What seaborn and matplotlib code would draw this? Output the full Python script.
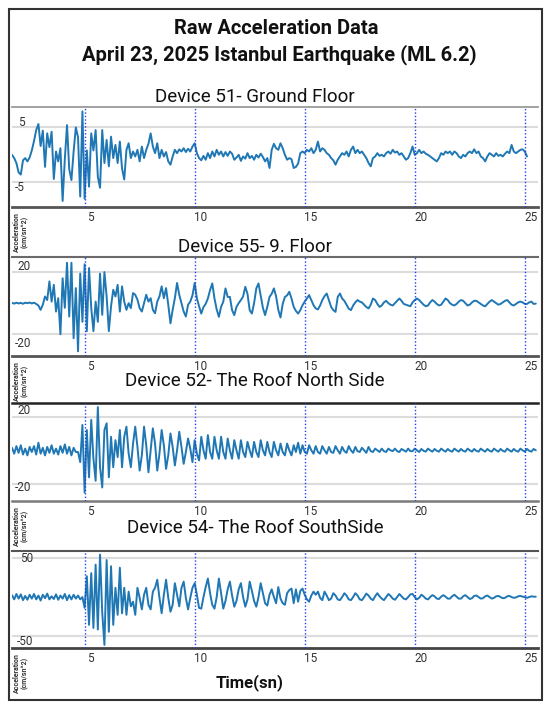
import numpy as np
import pandas as pd
import matplotlib
matplotlib.use("Agg")
import matplotlib.pyplot as plt
from matplotlib.patches import Rectangle
from matplotlib.transforms import ScaledTranslation, blended_transform_factory
import seaborn as sns

sns.set_style("white")
plt.rcParams["font.family"] = ["Roboto", "DejaVu Sans"]

# sampling of the records (s)
t_start = 1.7
dt = 0.1

# acceleration (cm/s^2), one row per second starting at 1.7 s
dev51 = [
    0.0, -0.6, -1.5, -3.2, -3.6, -1.0, -0.6, -1.2, -0.5, 0.8,
    2.5, 4.5, 5.6, 1.6, 4.4, -2.2, 3.9, 1.4, 4.2, -4.4,
    0.6, -1.2, 1.2, -8.4, -0.8, 5.4, -2.6, -4.6, 0.6, 5.0,
    3.2, -7.6, 7.9, -8.0, 0.8, -5.8, 3.9, 0.8, 4.5, -4.0,
    -6.0, 4.5, -1.5, 2.7, -2.1, 3.3, -0.6, 1.8, -1.5, 2.4,
    -2.5, -4.5, 0.9, 2.1, -0.6, 0.6, -0.3, 0.9, -1.2, 1.5,
    -0.6, 0.9, 2.0, 3.9, 1.5, 0.3, 2.1, -0.6, 0.9, -0.3,
    0.5, -1.2, -1.8, -0.3, 0.9, 0.3, 1.0, 0.6, 1.2, 0.5,
    1.1, 0.6, 1.5, 2.1, 0.3, -0.6, -1.0, -0.2, -0.9, 0.3,
    -0.6, 0.6, -0.3, 0.9, 0.0, 0.6, -0.3, 0.5, -0.2, 0.6,
    0.2, -0.9, -0.5, 0.0, -1.1, -0.3, -0.7, 0.3, -0.6, -0.2,
    -0.9, 0.0, -0.5, 0.2, -0.4, -1.2, -0.6, -2.4, 0.9, 2.0,
    1.2, 0.9, 2.1, 1.2, 0.0, -0.9, -0.6, -0.8, -2.4, -2.2,
    -1.6, 0.3, 0.6, 0.3, 0.9, 0.6, 1.2, 0.3, 0.9, 2.4,
    0.6, 1.2, 0.9, 0.3, 0.0, -0.6, -1.0, -1.8, -0.9, -0.3,
    0.3, 0.0, 0.6, -0.3, 0.9, 1.5, 0.3, 0.9, 0.3, 0.6,
    0.0, -0.6, -1.5, -2.1, -0.6, -0.3, 0.3, -0.2, 0.0, -0.3,
    0.3, 0.6, 0.2, 0.9, 0.4, 0.6, 0.0, 0.3, -0.3, -0.9,
    -0.6, 0.3, 1.5, 0.0, 0.3, 0.9, 0.3, 0.6, 0.2, 0.0,
    -0.3, -0.6, -0.9, -1.2, -0.6, 0.3, 0.0, 0.6, 0.3, 0.6,
    0.0, 0.6, 0.3, -0.3, -0.6, 0.0, -0.3, 0.3, 0.6, 0.3,
    1.0, 0.3, 0.6, -0.3, -0.6, -1.2, -0.3, 0.3, 0.0, -0.3,
    0.3, -0.2, 0.0, -0.3, 0.2, 0.6, 0.3, 1.8, 0.6, 0.3,
    0.6, 0.9, 1.0, 0.6, -0.3,
]

dev55 = [
    0.2, -0.3, 0.3, -0.2, 0.2, -0.4, 0.3, 0.0, 0.4, -0.2,
    0.3, -0.5, -1.5, -4.3, -1.0, 4.3, 2.0, 14.0, 1.0, 11.8,
    -5.4, 3.2, -20.0, 16.0, -3.0, 26.0, -8.6, 26.0, -22.6, 9.7,
    -31.0, 19.0, -12.0, 25.0, -18.0, 22.6, -3.0, -18.0, 1.0, -12.0,
    19.0, -7.5, 20.0, 4.3, -18.0, -2.0, 8.6, 4.3, 11.8, -5.4,
    10.8, 1.0, -4.3, 0.0, -3.2, 6.5, 5.4, 2.2, -3.2, -5.4,
    0.0, 5.4, 1.0, 3.2, -4.3, -6.5, 1.0, 4.3, 10.8, 3.2,
    9.7, -1.0, -13.0, -4.3, 3.2, 13.0, 5.4, 0.0, -5.4, -8.6,
    -1.0, 1.0, 5.0, 13.0, 3.2, -2.0, -6.7, -2.5, -0.5, 3.0,
    8.4, 12.7, 3.0, -4.0, -8.8, -2.4, 0.9, 9.5, 4.0, 4.0,
    -4.5, -7.7, -2.4, 0.0, 2.0, 4.3, 10.5, 6.0, -4.5, -6.7,
    0.0, 9.5, 12.7, 5.0, -3.0, -7.7, -2.4, 4.0, 6.0, 9.5,
    4.3, -4.3, -9.2, -0.5, 4.0, 5.0, 7.3, 3.0, -2.4, -5.0,
    -6.7, -4.5, -1.3, 1.0, 3.0, 5.2, 2.0, -1.3, -3.4, -4.0,
    -1.5, 2.0, 4.5, 6.2, 2.0, -2.4, -4.5, -5.6, 4.0, 6.2,
    3.0, 1.5, -1.0, -3.5, -4.5, -1.5, 0.5, 2.0, 1.0, 0.5,
    -1.0, -2.5, -3.4, -1.0, 3.0, 2.0, -0.5, -2.4, -1.5, 0.5,
    1.5, 0.0, -1.0, -1.5, 0.0, 1.5, 3.0, 1.5, -0.5, -1.0,
    -1.5, -2.0, 0.5, 2.0, 3.0, 2.0, 0.5, -1.0, -2.0, -1.5,
    0.5, 2.0, 1.0, -0.5, -1.5, -1.0, 1.0, 3.0, 2.0, 0.0,
    -1.0, -1.5, -0.5, 1.0, 2.0, 1.5, 0.0, -1.5, -1.0, 0.5,
    1.5, 1.5, 0.5, -0.5, -1.5, -2.0, -0.5, 1.0, 2.0, 1.0,
    0.0, -1.0, -0.5, 0.5, 1.5, 2.0, 0.5, -1.0, -1.5, -0.5,
    0.5, 1.0, 0.5, -0.5, -0.5, 0.5, 1.0, -0.5, -0.3,
]

dev52 = [
    1.5, -2.0, 2.5, -1.5, 3.0, -2.5, 1.0, -3.0, 2.0, -1.0,
    2.5, -2.5, 4.5, -2.0, 1.5, -3.0, 2.0, -1.5, 3.0, -2.0,
    1.0, -2.5, 2.5, -1.5, 3.5, -2.0, 2.0, -3.0, 1.5, -1.0,
    -1.0, -7.0, 15.0, -25.0, 12.0, -16.0, 18.0, -5.0, -18.0, 25.6,
    -10.0, -22.0, 12.0, 16.0, -16.0, 8.0, -10.0, 6.0, -4.0, 12.0,
    -10.0, 8.0, 14.0, -2.0, -10.0, 4.0, 14.0, 2.0, -12.0, -3.0,
    14.0, 3.0, -13.0, 0.0, 13.0, 4.0, -12.0, -2.0, 12.0, 3.0,
    -11.0, -3.0, 10.0, 2.0, -9.0, 0.0, 11.0, 2.0, -8.0, -1.0,
    7.0, 1.0, -7.0, 6.0, -2.0, -6.0, 8.0, 0.0, -5.0, 9.0,
    -1.0, -5.0, 8.0, 0.0, -5.0, 8.0, -1.0, -5.0, 7.0, 0.0,
    -5.0, 6.0, 0.0, -5.0, 6.0, -1.0, -4.0, 5.0, 0.0, -4.0,
    5.0, -1.0, -4.0, 6.0, 0.0, -3.0, 5.0, -1.0, -4.0, 5.0,
    0.0, -3.0, 4.0, -1.0, -3.0, 4.0, 0.0, -3.0, 3.0, -1.0,
    4.5, -2.0, 3.0, -1.0, -2.0, 3.0, 0.0, -2.0, 2.5, -1.0,
    -2.0, 2.5, 0.0, -2.0, 2.0, -1.0, -1.5, 2.5, 0.0, -2.0,
    2.0, -0.5, -1.5, 2.5, 0.0, -1.5, 2.0, -0.5, -1.0, 1.5,
    0.0, -1.5, 2.0, -0.5, -1.0, 1.0, 0.0, -1.0, 1.0, -0.5,
    -1.0, 1.0, 0.0, -0.5, 1.0, -0.5, -1.0, 0.8, 0.0, -0.8,
    1.0, -0.5, -0.5, 1.0, 0.0, -1.0, 0.8, -0.3, -0.8, 1.0,
    0.0, -0.8, 0.8, -0.3, -0.8, 1.0, 0.0, -0.8, 0.8, -0.3,
    -0.8, 1.0, 0.0, -0.8, 0.8, -0.3, -0.8, 1.0, 0.0, -0.8,
    0.8, -0.3, -0.8, 1.0, 0.0, -0.8, 0.8, -0.3, -0.8, 1.0,
    0.0, -0.8, 0.8, -0.3, -0.8, 1.0, 0.0, -0.8, 0.8, -0.3,
    -0.8, 1.0, 0.0, -0.8, 0.8, -0.3, -0.8, 0.8, 0.0,
]

dev54 = [
    2.5, -3.0, 4.0, -2.0, 3.5, -4.0, 1.5, -3.5, 3.0, -2.0,
    4.0, -3.0, 2.0, -4.5, 3.0, -1.5, 4.5, -3.0, 1.0, -2.5,
    3.5, -3.5, 2.0, -2.0, 4.0, -4.0, 2.5, -3.0, 3.0, -2.0,
    2.0, -3.0, 0.0, -14.0, 27.0, -36.0, 31.0, -40.0, 42.0, -42.0,
    55.0, -20.0, -62.0, 48.0, -45.0, 40.0, -36.0, 12.0, -23.0, 38.0,
    -21.0, 12.0, -23.0, 7.0, -12.0, -6.0, -23.0, 12.0, -1.0, -16.0,
    3.0, 12.0, -10.0, -16.0, 7.0, 12.0, 22.5, -1.0, -21.0, 3.0,
    22.5, -1.0, -19.0, -10.0, 18.0, 3.0, -12.0, 12.0, 20.0, -1.0,
    -16.0, -1.0, 12.0, 18.0, 3.0, -14.0, -15.0, 0.0, 13.0, 24.0,
    5.0, -10.0, -15.0, 0.0, 24.0, 5.0, -15.0, -5.0, 10.0, 20.0,
    2.0, -12.5, -5.0, 10.0, 18.0, 0.0, -12.5, -3.0, 20.0, 8.0,
    -5.0, -12.5, 0.0, 18.0, 5.0, -8.0, -11.0, 3.0, 10.0, 0.0,
    -8.0, 13.0, -2.0, -8.0, -10.0, 5.0, 9.0, 11.0, -8.0, 10.0,
    -6.0, 8.0, 11.0, 3.0, -3.0, -6.0, 2.0, 7.0, 3.0, 7.0,
    -1.0, -4.0, 7.0, 2.0, -4.0, -2.0, 5.0, 2.0, -3.0, -4.0,
    0.0, 5.0, 2.0, -3.0, -4.0, 0.0, 5.0, 2.0, -3.0, -4.0,
    0.0, 4.5, 2.0, -2.0, -4.0, 1.0, 5.0, 1.0, -2.0, -4.0,
    0.0, 4.0, 1.5, -2.0, -3.5, 0.0, 4.0, 1.0, -2.0, -3.0,
    0.0, 3.5, 4.0, 0.0, -3.0, -1.0, 3.0, 1.0, -2.0, -3.0,
    0.0, 2.5, 1.0, -2.0, -2.5, 0.5, 2.5, 0.5, -2.0, -2.0,
    1.0, 3.0, 0.5, -2.0, -2.0, 1.0, 2.5, 0.0, -2.5, -1.5,
    1.5, 2.0, 0.0, -2.0, -1.5, 1.0, 2.0, 0.0, -2.0, -1.0,
    1.0, 1.5, 0.0, -1.5, -1.0, 1.0, 1.5, 0.0, -1.0, -0.5,
    1.0, 1.5, 0.5, 0.0, -1.0, 0.0, 1.0, 0.5, 0.5,
]

records = [dev51, dev55, dev52, dev54]
panel_titles = [
    "Device 51- Ground Floor",
    "Device 55- 9. Floor",
    "Device 52- The Roof North Side",
    "Device 54- The Roof SouthSide",
]
y_ticks = [[5, -5], [20, -20], [20, -20], [50, -50]]
y_limits = [(-9.5, 8.7), (-34, 29.7), (-30, 28), (-66, 59.7)]
x_ticks = [5, 10, 15, 20, 25]

# layout in pixels of the 550x708 picture
W, H = 550, 708
axes_box = [(12, 107, 538, 207), (12, 257, 538, 356), (12, 403, 538, 501), (12, 551, 538, 648)]
title_y = [97, 247, 381, 528]
ylab_right = [25, 31, 31, 33]
ylab_shift = [(5, -5), (6, -9), (6, -3), (0, -6)]
spine_top = [("#9a9a9a", 1.3), ("#6a6a6a", 1.5), ("#222222", 1.8), ("#555555", 1.5)]
spine_bottom = [("#555555", 2.0), ("#555555", 2.0), ("#7a7a7a", 1.8), ("#444444", 2.0)]
line_color = "#1f77b4"

fig = plt.figure(figsize=(W / 100, H / 100), dpi=100)

for i, vals in enumerate(records):
    x0, y0, x1, y1 = axes_box[i]
    ax = fig.add_axes([x0 / W, 1 - y1 / H, (x1 - x0) / W, (y1 - y0) / H])
    df = pd.DataFrame({"t": t_start + dt * np.arange(len(vals)), "acc": vals})

    for yv in y_ticks[i]:
        ax.axhline(yv, color="#dcdcdc", lw=1.5, zorder=0)
    sns.lineplot(data=df, x="t", y="acc", ax=ax, color=line_color, lw=1.4,
                 estimator=None, sort=False, legend=False, zorder=2)
    for xv in x_ticks:
        ax.axvline(xv, color="#2040f0", lw=1.0, ls=(0, (1, 1.5)), zorder=3)

    ax.set_xlim(1.7, 25.6)
    ax.set_ylim(*y_limits[i])
    ax.set_xlabel("")
    ax.set_ylabel("")
    ax.set_yticks([])
    ax.set_xticks(x_ticks)
    ax.set_xticklabels([str(v) for v in x_ticks], fontsize=8.5, color="#333333")
    ax.tick_params(axis="x", length=0, pad=3)
    for lab in ax.get_xticklabels():
        lab.set_transform(lab.get_transform() + ScaledTranslation(0.06, 0, fig.dpi_scale_trans))

    ax.spines["left"].set_visible(False)
    ax.spines["right"].set_visible(False)
    ax.spines["top"].set_color(spine_top[i][0])
    ax.spines["top"].set_linewidth(spine_top[i][1])
    ax.spines["bottom"].set_color(spine_bottom[i][0])
    ax.spines["bottom"].set_linewidth(spine_bottom[i][1])

    # y tick labels drawn inside the plot
    trans = blended_transform_factory(ax.transAxes, ax.transData)
    xr = (ylab_right[i] - x0) / (x1 - x0)
    for yv, dy in zip(y_ticks[i], ylab_shift[i]):
        ax.text(xr, yv, str(yv), ha="right", va="center", fontsize=8.5, color="#333333",
                transform=trans + ScaledTranslation(0, dy / 100, fig.dpi_scale_trans))

    fig.text(255 / W, 1 - title_y[i] / H, panel_titles[i], ha="center", va="center",
             fontsize=13.5, color="#111111")
    fig.text(21 / W, 1 - (y1 + 25) / H, "Acceleration\n(cm/sn^2)", rotation=90,
             ha="center", va="center", fontsize=5, fontweight="bold", color="#333333",
             linespacing=1.0)

fig.text(276 / W, 1 - 28 / H, "Raw Acceleration Data", ha="center", va="center",
         fontsize=14.5, fontweight="bold", color="#111111")
fig.text(279 / W, 1 - 55 / H, "April 23, 2025 Istanbul Earthquake (ML 6.2)", ha="center",
         va="center", fontsize=14.5, fontweight="bold", color="#111111")
fig.text(250 / W, 1 - 683 / H, "Time(sn)", ha="center", va="center", fontsize=12,
         fontweight="bold", color="#111111")

fig.add_artist(Rectangle((9 / W, 1 - 700 / H), (542 - 9) / W, (700 - 9) / H,
                         transform=fig.transFigure, fill=False, ec="#333333", lw=1.5))

fig.savefig("out.png", dpi=100)
